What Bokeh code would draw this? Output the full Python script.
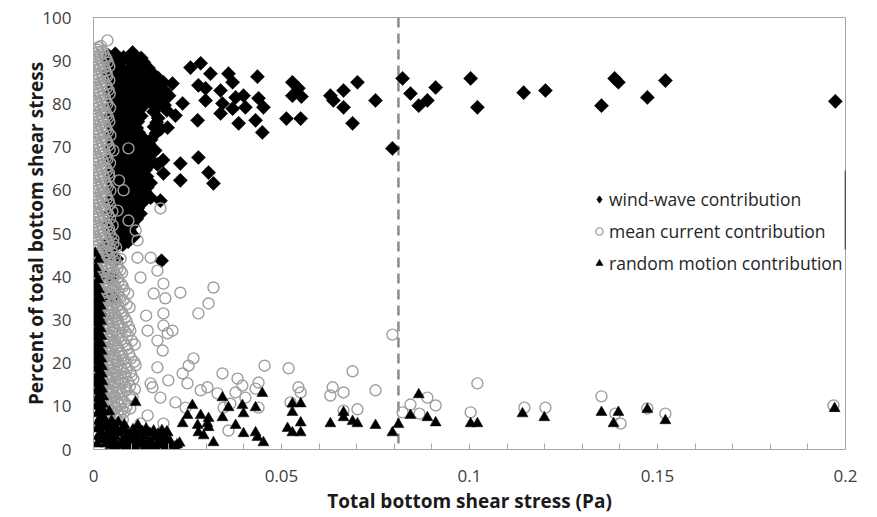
import math
from bokeh.plotting import figure
from bokeh.models import Range1d, FixedTicker, NumeralTickFormatter, Span, Legend, LegendItem
from bokeh.embed import file_html
from bokeh.resources import INLINE

# ---- axis ticks ----
x_ticks = [0, 0.05, 0.1, 0.15, 0.2]
x_minor_ticks = [0.01, 0.02, 0.03, 0.04, 0.06, 0.07, 0.08, 0.09, 0.11, 0.12, 0.13, 0.14,
                 0.16, 0.17, 0.18, 0.19]
y_ticks = [0, 10, 20, 30, 40, 50, 60, 70, 80, 90, 100]

# threshold stress marked by the dashed line (Pa)
threshold_stress = 0.0811
# short dark stroke on the right edge of the frame (percent range)
edge_mark_y = [46.3, 64.6]

# ---- wind-wave contribution: dense low-stress cluster ----
ww_core_x = [
    0.0040, 0.0058, 0.0104,
    0.0036, 0.0047, 0.0069, 0.0093, 0.0119, 0.0134,
    0.0038, 0.0046, 0.0063, 0.0086, 0.0111, 0.0136, 0.0157,
    0.0047, 0.0066, 0.0091, 0.0116, 0.0141, 0.0164, 0.0186, 0.0210,
    0.0045, 0.0060, 0.0084, 0.0109, 0.0133, 0.0155, 0.0179, 0.0201,
    0.0047, 0.0065, 0.0089, 0.0113, 0.0137, 0.0166, 0.0189,
    0.0045, 0.0062, 0.0087, 0.0110, 0.0127, 0.0172, 0.0218,
    0.0047, 0.0066, 0.0091, 0.0115, 0.0161, 0.0179, 0.0197,
    0.0045, 0.0061, 0.0085, 0.0108, 0.0131, 0.0153,
    0.0047, 0.0065, 0.0090, 0.0116, 0.0141, 0.0164,
    0.0045, 0.0062, 0.0087, 0.0111, 0.0135, 0.0156, 0.0185,
    0.0047, 0.0066, 0.0090, 0.0114, 0.0138, 0.0186, 0.0231,
    0.0045, 0.0061, 0.0085, 0.0108, 0.0130, 0.0152, 0.0231,
    0.0047, 0.0066, 0.0089, 0.0112, 0.0137, 0.0152,
    0.0045, 0.0062, 0.0086, 0.0108, 0.0131, 0.0178,
    0.0047, 0.0065, 0.0088, 0.0110, 0.0125,
    0.0045, 0.0060, 0.0082, 0.0104,
    0.0047, 0.0066, 0.0090, 0.0108,
    0.0030, 0.0055, 0.0078,
    0.0040, 0.0062, 0.0181,
    0.0025, 0.0048,
    0.0030, 0.0052,
    0.0028,
    # in-between observations of the same cluster
    0.0055, 0.0080, 0.0106, 0.0127,
    0.0051, 0.0075, 0.0098, 0.0123, 0.0146,
    0.0052, 0.0077, 0.0100, 0.0126, 0.0150, 0.0172,
    0.0048, 0.0072, 0.0096, 0.0121, 0.0144, 0.0167, 0.0190,
    0.0050, 0.0076, 0.0100, 0.0124, 0.0150, 0.0177,
    0.0050, 0.0074, 0.0098, 0.0119, 0.0160, 0.0195,
    0.0052, 0.0076, 0.0100, 0.0118, 0.0168,
    0.0049, 0.0073, 0.0097, 0.0120, 0.0166,
    0.0051, 0.0075, 0.0098, 0.0123, 0.0147,
    0.0050, 0.0074, 0.0099, 0.0123, 0.0148,
    0.0052, 0.0076, 0.0100, 0.0125, 0.0147, 0.0170,
    0.0050, 0.0073, 0.0097, 0.0120, 0.0142,
    0.0051, 0.0075, 0.0098, 0.0122, 0.0143,
    0.0050, 0.0074, 0.0097, 0.0120,
    0.0052, 0.0076, 0.0099, 0.0118,
    0.0049, 0.0072, 0.0094, 0.0115,
    0.0051, 0.0074, 0.0096,
    0.0048, 0.0070, 0.0092,
]
ww_core_y = [
    91.2, 91.6, 91.9,
    89.6, 90.1, 89.3, 90.4, 88.9, 89.6,
    87.4, 86.8, 87.6, 86.9, 87.3, 86.6, 87.1,
    84.9, 84.3, 85.1, 84.5, 84.8, 84.2, 85.0, 84.7,
    82.3, 81.8, 82.5, 81.9, 82.2, 81.6, 82.4, 81.9,
    79.8, 79.3, 80.0, 79.5, 79.9, 79.2, 79.7,
    77.3, 76.8, 77.4, 76.9, 77.2, 76.7, 77.3,
    74.8, 74.3, 75.0, 74.4, 74.7, 74.2, 74.5,
    72.3, 71.8, 72.4, 71.9, 72.2, 71.7,
    69.8, 69.3, 69.9, 69.4, 69.7, 69.2,
    67.3, 66.8, 67.4, 66.9, 67.2, 66.7, 67.0,
    64.8, 64.3, 64.9, 64.4, 64.7, 63.9, 66.2,
    62.3, 61.8, 62.4, 61.9, 62.2, 61.7, 62.3,
    59.8, 59.3, 59.9, 59.4, 59.7, 58.3,
    57.3, 56.8, 57.4, 56.9, 57.2, 57.6,
    54.8, 54.3, 54.9, 54.4, 54.6,
    52.3, 51.8, 52.4, 51.9,
    49.8, 49.3, 49.9, 49.4,
    47.3, 46.8, 47.4,
    44.6, 44.1, 43.7,
    40.4, 39.9,
    35.7, 35.2,
    30.4,
    90.5, 90.8, 90.3, 90.6,
    88.2, 88.0, 88.4, 88.1, 88.3,
    85.8, 86.1, 85.6, 85.9, 85.7, 86.0,
    83.3, 83.6, 83.1, 83.4, 83.2, 83.5, 83.0,
    80.8, 81.1, 80.6, 80.9, 80.7, 81.0,
    78.3, 78.6, 78.1, 78.4, 78.2, 78.5,
    75.8, 76.1, 75.6, 75.9, 75.7,
    73.3, 73.6, 73.1, 73.4, 73.2,
    70.8, 71.1, 70.6, 70.9, 70.7,
    68.3, 68.6, 68.1, 68.4, 68.2,
    65.8, 66.1, 65.6, 65.9, 65.7, 66.0,
    63.3, 63.6, 63.1, 63.4, 63.2,
    60.8, 61.1, 60.6, 60.9, 60.7,
    58.3, 58.6, 58.1, 58.4,
    55.8, 56.1, 55.6, 55.9,
    53.3, 53.6, 53.1, 53.4,
    50.8, 51.1, 50.6,
    48.3, 48.6, 48.1,
]
# ---- wind-wave contribution: higher-stress observations ----
ww_x = [
    0.0237, 0.0258, 0.0285, 0.0311, 0.0359, 0.0370, 0.0436, 0.0279, 0.0298, 0.0338,
    0.0378, 0.0399, 0.0439, 0.0298, 0.0343, 0.0370, 0.0404, 0.0452, 0.0338, 0.0386,
    0.0431, 0.0449, 0.0277, 0.0529, 0.0545, 0.0529, 0.0553, 0.0513, 0.0551, 0.0630,
    0.0638, 0.0665, 0.0702, 0.0665, 0.0689, 0.0750, 0.0795, 0.0279, 0.0306, 0.0319,
    0.0822, 0.0843, 0.0865, 0.0888, 0.0910, 0.1003, 0.1021, 0.1144, 0.1202, 0.1351,
    0.1386, 0.1396, 0.1473, 0.1521, 0.1973,
]
ww_y = [
    80.1, 88.4, 89.4, 87.0, 87.0, 85.0, 86.3, 84.3, 83.6, 83.1,
    81.5, 81.9, 81.3, 80.8, 80.1, 78.9, 79.2, 79.2, 77.8, 75.5,
    76.2, 73.4, 76.2, 85.0, 83.6, 81.9, 81.7, 76.6, 76.6, 81.9,
    80.8, 83.1, 85.0, 79.2, 75.5, 80.8, 69.7, 67.6, 64.1, 61.6,
    85.9, 82.4, 79.6, 80.8, 83.8, 85.9, 79.2, 82.6, 83.1, 79.6,
    85.9, 85.0, 81.5, 85.4, 80.6,
]

# ---- mean current contribution: dense low-stress cluster ----
mc_core_x = [
    0.0010, 0.0024,
    0.0005, 0.0018, 0.0031,
    0.0011, 0.0025, 0.0038,
    0.0004, 0.0017, 0.0032,
    0.0010, 0.0024, 0.0036,
    0.0006, 0.0019, 0.0033,
    0.0012, 0.0026, 0.0040,
    0.0005, 0.0018, 0.0031,
    0.0011, 0.0025, 0.0037,
    0.0004, 0.0019, 0.0033,
    0.0010, 0.0024, 0.0039,
    0.0006, 0.0018, 0.0032,
    0.0012, 0.0026, 0.0038,
    0.0005, 0.0019, 0.0034,
    0.0011, 0.0024, 0.0040,
    0.0004, 0.0018, 0.0031,
    0.0010, 0.0025, 0.0037,
    0.0006, 0.0019, 0.0033,
    0.0012, 0.0026, 0.0041,
    0.0005, 0.0018, 0.0032,
    0.0011, 0.0024, 0.0038,
    0.0004, 0.0019, 0.0034,
    0.0010, 0.0025, 0.0040,
    0.0006, 0.0018, 0.0031,
    0.0012, 0.0026, 0.0039,
    0.0005, 0.0019, 0.0033,
    0.0011, 0.0024, 0.0041,
    0.0004, 0.0018, 0.0032, 0.0046,
    0.0010, 0.0025, 0.0039, 0.0053,
    0.0006, 0.0019, 0.0033, 0.0048,
    0.0012, 0.0026, 0.0041, 0.0057,
    0.0005, 0.0018, 0.0032, 0.0047, 0.0063,
    0.0011, 0.0025, 0.0039, 0.0055, 0.0071,
    0.0004, 0.0019, 0.0034, 0.0049, 0.0064,
    0.0010, 0.0024, 0.0040, 0.0056, 0.0074,
    0.0006, 0.0018, 0.0033, 0.0048, 0.0065, 0.0082,
    0.0012, 0.0026, 0.0041, 0.0057, 0.0072,
    0.0005, 0.0019, 0.0034, 0.0049, 0.0066, 0.0088,
    0.0011, 0.0025, 0.0040, 0.0056, 0.0075,
    0.0004, 0.0018, 0.0033, 0.0048, 0.0064, 0.0083,
    0.0010, 0.0024, 0.0039, 0.0055, 0.0071, 0.0094,
    0.0006, 0.0019, 0.0034, 0.0049, 0.0066, 0.0085,
    0.0012, 0.0026, 0.0041, 0.0057, 0.0074, 0.0102,
    0.0005, 0.0018, 0.0032, 0.0048, 0.0064, 0.0086,
    0.0011, 0.0025, 0.0040, 0.0056, 0.0073, 0.0095,
    0.0004, 0.0019, 0.0034, 0.0049, 0.0065, 0.0081, 0.0108,
    0.0010, 0.0024, 0.0039, 0.0055, 0.0072, 0.0090,
    0.0006, 0.0018, 0.0033, 0.0048, 0.0064, 0.0082, 0.0101,
    0.0012, 0.0026, 0.0041, 0.0057, 0.0073, 0.0092,
    0.0008, 0.0019, 0.0034, 0.0049, 0.0066, 0.0084, 0.0110,
    0.0014, 0.0025, 0.0040, 0.0056, 0.0074, 0.0096,
    0.0020, 0.0033, 0.0048, 0.0064, 0.0083,
    0.0030, 0.0044, 0.0058, 0.0076, 0.0098,
    0.0040, 0.0055, 0.0070,
    0.0052, 0.0068,
    # in-between observations of the same cluster
    0.0020,
    0.0002, 0.0013, 0.0027,
    0.0007, 0.0020, 0.0034,
    0.0002, 0.0014, 0.0028, 0.0042,
    0.0008, 0.0021, 0.0035,
    0.0003, 0.0014, 0.0027, 0.0042,
    0.0008, 0.0021, 0.0035,
    0.0002, 0.0015, 0.0028, 0.0043,
    0.0007, 0.0021, 0.0034,
    0.0003, 0.0014, 0.0027, 0.0044,
    0.0008, 0.0021, 0.0035,
    0.0002, 0.0015, 0.0028, 0.0042,
    0.0007, 0.0021, 0.0034,
    0.0003, 0.0014, 0.0027, 0.0045,
    0.0008, 0.0021, 0.0035,
    0.0002, 0.0015, 0.0028, 0.0043,
    0.0007, 0.0021, 0.0034,
    0.0003, 0.0014, 0.0027, 0.0044,
    0.0008, 0.0021, 0.0035,
    0.0002, 0.0015, 0.0028, 0.0042,
    0.0007, 0.0021, 0.0034,
    0.0003, 0.0014, 0.0027, 0.0045,
    0.0008, 0.0021, 0.0035,
    0.0002, 0.0015, 0.0028, 0.0043,
    0.0007, 0.0021, 0.0034, 0.0050,
    0.0003, 0.0014, 0.0027, 0.0044,
    0.0008, 0.0021, 0.0035, 0.0051,
    0.0002, 0.0015, 0.0028, 0.0042,
    0.0007, 0.0021, 0.0034, 0.0053,
    0.0003, 0.0014, 0.0027, 0.0041, 0.0060,
    0.0008, 0.0021, 0.0035, 0.0050,
    0.0002, 0.0015, 0.0028, 0.0042, 0.0056, 0.0072,
    0.0007, 0.0021, 0.0034, 0.0048, 0.0064,
    0.0003, 0.0014, 0.0027, 0.0041, 0.0057, 0.0076,
    0.0008, 0.0021, 0.0035, 0.0050, 0.0066,
    0.0002, 0.0015, 0.0028, 0.0042, 0.0058, 0.0078,
    0.0007, 0.0021, 0.0034, 0.0049, 0.0064, 0.0092,
    0.0003, 0.0014, 0.0027, 0.0041, 0.0057, 0.0079,
    0.0008, 0.0021, 0.0035, 0.0050, 0.0067, 0.0096,
    0.0002, 0.0015, 0.0028, 0.0042, 0.0059, 0.0078,
    0.0007, 0.0021, 0.0034, 0.0049, 0.0066, 0.0088,
    0.0003, 0.0014, 0.0027, 0.0041, 0.0058, 0.0078, 0.0098,
    0.0008, 0.0021, 0.0035, 0.0050, 0.0066, 0.0091,
    0.0002, 0.0015, 0.0028, 0.0042, 0.0058, 0.0079, 0.0110,
    0.0007, 0.0021, 0.0034, 0.0049, 0.0067, 0.0090,
    0.0003, 0.0014, 0.0027, 0.0041, 0.0057, 0.0077, 0.0100,
    0.0008, 0.0021, 0.0035, 0.0050, 0.0066, 0.0086, 0.0112,
    0.0002, 0.0015, 0.0028, 0.0042, 0.0058, 0.0076, 0.0098,
    0.0007, 0.0021, 0.0034, 0.0049, 0.0066, 0.0085, 0.0106,
    0.0003, 0.0014, 0.0027, 0.0041, 0.0057, 0.0076, 0.0097,
    0.0010, 0.0021, 0.0035, 0.0050, 0.0067, 0.0088,
    0.0016, 0.0028, 0.0042, 0.0058, 0.0075, 0.0104,
    0.0025, 0.0038, 0.0052, 0.0068, 0.0088,
    0.0036, 0.0050, 0.0064, 0.0082,
    0.0046, 0.0060, 0.0078,
]
mc_core_y = [
    92.6, 92.2,
    91.0, 91.3, 90.8,
    89.4, 89.1, 89.6,
    87.8, 88.1, 87.6,
    86.2, 85.9, 86.4,
    84.6, 84.9, 84.4,
    83.0, 82.7, 83.2,
    81.4, 81.7, 81.2,
    79.8, 79.5, 80.0,
    78.2, 78.5, 78.0,
    76.6, 76.3, 76.8,
    75.0, 75.3, 74.8,
    73.4, 73.1, 73.6,
    71.8, 72.1, 71.6,
    70.2, 69.9, 70.4,
    68.6, 68.9, 68.4,
    67.0, 66.7, 67.2,
    65.4, 65.7, 65.2,
    63.8, 63.5, 64.0,
    62.2, 62.5, 62.0,
    60.6, 60.3, 60.8,
    59.0, 59.3, 58.8,
    57.4, 57.1, 57.6,
    55.8, 56.1, 55.6,
    54.2, 53.9, 54.4,
    52.6, 52.9, 52.4,
    51.0, 50.7, 51.2,
    49.4, 49.7, 49.2, 49.5,
    47.8, 47.5, 48.0, 47.7,
    46.2, 46.5, 46.0, 46.3,
    44.6, 44.3, 44.8, 44.5,
    43.0, 43.3, 42.8, 43.1, 42.9,
    41.4, 41.1, 41.6, 41.3, 41.5,
    39.8, 40.1, 39.6, 39.9, 39.7,
    38.2, 37.9, 38.4, 38.1, 38.3,
    36.6, 36.9, 36.4, 36.7, 36.5, 36.8,
    35.0, 34.7, 35.2, 34.9, 35.1,
    33.4, 33.7, 33.2, 33.5, 33.3, 33.6,
    31.8, 31.5, 32.0, 31.7, 31.9,
    30.2, 30.5, 30.0, 30.3, 30.1, 30.4,
    28.6, 28.3, 28.8, 28.5, 28.7, 28.4,
    27.0, 27.3, 26.8, 27.1, 26.9, 27.2,
    25.4, 25.1, 25.6, 25.3, 25.5, 25.2,
    23.8, 24.1, 23.6, 23.9, 23.7, 24.0,
    22.2, 21.9, 22.4, 22.1, 22.3, 22.0,
    20.6, 20.9, 20.4, 20.7, 20.5, 20.8, 20.3,
    19.0, 18.7, 19.2, 18.9, 19.1, 18.8,
    17.4, 17.7, 17.2, 17.5, 17.3, 17.6, 17.1,
    15.8, 15.5, 16.0, 15.7, 15.9, 15.6,
    14.2, 14.5, 14.0, 14.3, 14.1, 14.4, 13.9,
    12.6, 12.3, 12.8, 12.5, 12.7, 12.4,
    11.0, 11.3, 10.8, 11.1, 10.9,
    9.4, 9.1, 9.6, 9.3, 9.5,
    7.8, 8.1, 7.6,
    6.4, 6.2,
    93.4,
    91.8, 92.0, 91.7,
    90.2, 90.0, 90.4,
    88.6, 88.8, 88.5, 88.7,
    87.0, 87.2, 86.9,
    85.4, 85.6, 85.3, 85.5,
    83.8, 84.0, 83.7,
    82.2, 82.4, 82.1, 82.3,
    80.6, 80.8, 80.5,
    79.0, 79.2, 78.9, 79.1,
    77.4, 77.6, 77.3,
    75.8, 76.0, 75.7, 75.9,
    74.2, 74.4, 74.1,
    72.6, 72.8, 72.5, 72.7,
    71.0, 71.2, 70.9,
    69.4, 69.6, 69.3, 69.5,
    67.8, 68.0, 67.7,
    66.2, 66.4, 66.1, 66.3,
    64.6, 64.8, 64.5,
    63.0, 63.2, 62.9, 63.1,
    61.4, 61.6, 61.3,
    59.8, 60.0, 59.7, 59.9,
    58.2, 58.4, 58.1,
    56.6, 56.8, 56.5, 56.7,
    55.0, 55.2, 54.9, 55.1,
    53.4, 53.6, 53.3, 53.5,
    51.8, 52.0, 51.7, 51.9,
    50.2, 50.4, 50.1, 50.3,
    48.6, 48.8, 48.5, 48.7,
    47.0, 47.2, 46.9, 47.1, 46.8,
    45.4, 45.6, 45.3, 45.5,
    43.8, 44.0, 43.7, 43.9, 43.6, 44.1,
    42.2, 42.4, 42.1, 42.3, 42.0,
    40.6, 40.8, 40.5, 40.7, 40.4, 40.9,
    39.0, 39.2, 38.9, 39.1, 38.8,
    37.4, 37.6, 37.3, 37.5, 37.2, 37.7,
    35.8, 36.0, 35.7, 35.9, 35.6, 36.1,
    34.2, 34.4, 34.1, 34.3, 34.0, 34.5,
    32.6, 32.8, 32.5, 32.7, 32.4, 32.9,
    31.0, 31.2, 30.9, 31.1, 30.8, 31.3,
    29.4, 29.6, 29.3, 29.5, 29.2, 29.7,
    27.8, 28.0, 27.7, 27.9, 27.6, 28.1, 27.5,
    26.2, 26.4, 26.1, 26.3, 26.0, 26.5,
    24.6, 24.8, 24.5, 24.7, 24.4, 24.9, 24.3,
    23.0, 23.2, 22.9, 23.1, 22.8, 23.3,
    21.4, 21.6, 21.3, 21.5, 21.2, 21.7, 21.1,
    19.8, 20.0, 19.7, 19.9, 19.6, 20.1, 19.5,
    18.2, 18.4, 18.1, 18.3, 18.0, 18.5, 17.9,
    16.6, 16.8, 16.5, 16.7, 16.4, 16.9, 16.3,
    15.0, 15.2, 14.9, 15.1, 14.8, 15.3, 14.7,
    13.4, 13.6, 13.3, 13.5, 13.2, 13.7,
    11.8, 12.0, 11.7, 11.9, 11.6, 12.1,
    10.2, 10.4, 10.1, 10.3, 10.0,
    8.6, 8.8, 8.5, 8.7,
    7.0, 7.2, 6.9,
]
# ---- mean current contribution: scattered observations ----
mc_x = [
    0.0013, 0.0037, 0.0053, 0.0093, 0.0068, 0.0080, 0.0064, 0.0093, 0.0112, 0.0117,
    0.0178, 0.0117, 0.0152, 0.0125, 0.0170, 0.0186, 0.0160, 0.0231, 0.0319, 0.0191,
    0.0306, 0.0279, 0.0186, 0.0140, 0.0186, 0.0197, 0.0144, 0.0210, 0.0170, 0.0184,
    0.0266, 0.0253, 0.0170, 0.0237, 0.0199, 0.0250, 0.0152, 0.0157, 0.0285, 0.0303,
    0.0330, 0.0218, 0.0178, 0.0245, 0.0144, 0.0125, 0.0186, 0.0364, 0.0359, 0.0455,
    0.0519, 0.0343, 0.0383, 0.0439, 0.0396, 0.0378, 0.0431, 0.0545, 0.0551, 0.0636,
    0.0630, 0.0665, 0.0689, 0.0750, 0.0404, 0.0346, 0.0439, 0.0524, 0.0665, 0.0702,
    0.0795, 0.0822, 0.0843, 0.0867, 0.0888, 0.0910, 0.1003, 0.1021, 0.1146, 0.1202,
    0.1351, 0.1388, 0.1402, 0.1473, 0.1521, 0.1968,
]
mc_y = [
    93.1, 94.7, 69.2, 69.7, 62.3, 60.0, 55.3, 53.0, 50.7, 48.4,
    55.8, 44.4, 44.4, 39.8, 41.4, 38.4, 36.1, 36.3, 37.5, 35.0,
    33.8, 31.5, 31.5, 31.0, 28.7, 26.9, 27.5, 27.5, 25.2, 22.9,
    21.1, 19.4, 19.0, 17.6, 16.0, 15.3, 15.3, 14.4, 13.7, 14.4,
    13.0, 10.9, 12.0, 9.7, 7.9, 6.0, 6.0, 10.6, 4.4, 19.4,
    18.8, 17.6, 16.4, 15.5, 14.8, 13.2, 14.1, 14.4, 13.2, 14.4,
    12.5, 13.2, 18.1, 13.7, 12.0, 9.7, 9.7, 10.9, 9.0, 9.3,
    26.6, 8.6, 10.4, 8.3, 12.0, 10.2, 8.6, 15.3, 9.7, 9.7,
    12.3, 8.3, 6.0, 9.5, 8.3, 10.2,
]

# ---- random motion contribution: dense low-stress cluster ----
rm_core_x = [
    0.0005, 0.0006, 0.0004, 0.0008, 0.0006, 0.0009, 0.0005, 0.0008, 0.0006, 0.0009,
    0.0005, 0.0007, 0.0010, 0.0006, 0.0008, 0.0011, 0.0007, 0.0010, 0.0012, 0.0008,
    0.0011, 0.0013, 0.0009, 0.0012, 0.0010,
    0.0017, 0.0019, 0.0018, 0.0020, 0.0019, 0.0021, 0.0020, 0.0022, 0.0021, 0.0023,
    0.0022, 0.0024, 0.0023, 0.0026, 0.0025, 0.0028, 0.0030, 0.0032, 0.0035, 0.0037,
    0.0013, 0.0012, 0.0014, 0.0013, 0.0015, 0.0012, 0.0014, 0.0013, 0.0015, 0.0014,
    0.0013, 0.0015, 0.0014, 0.0016, 0.0015, 0.0014, 0.0016, 0.0015, 0.0017, 0.0018,
    0.0020, 0.0022, 0.0024,
    0.0042, 0.0048, 0.0066, 0.0040, 0.0045, 0.0058, 0.0050, 0.0072, 0.0077, 0.0085,
    0.0098, 0.0105, 0.0112, 0.0125, 0.0138, 0.0140, 0.0151, 0.0165, 0.0178, 0.0182,
    0.0191, 0.0204, 0.0229,
    0.0058, 0.0085, 0.0112, 0.0138, 0.0164, 0.0191, 0.0217,
    0.0048, 0.0075, 0.0100, 0.0127, 0.0152, 0.0178, 0.0203,
    0.0040, 0.0066, 0.0092, 0.0120, 0.0150, 0.0172,
    0.0038, 0.0057, 0.0082, 0.0118,
    0.0032, 0.0060, 0.0088, 0.0115, 0.0142, 0.0170, 0.0196, 0.0222,
    0.0055, 0.0083, 0.0110, 0.0130, 0.0160, 0.0195,
]
rm_core_y = [
    45.4, 42.1, 40.6, 38.0, 36.2, 34.5, 32.8, 31.0, 29.3, 27.5,
    25.8, 24.0, 22.3, 20.5, 18.8, 17.0, 15.3, 13.5, 11.8, 10.0,
    8.3, 6.5, 4.8, 3.0, 1.3,
    35.0, 33.2, 31.5, 29.7, 28.0, 26.2, 24.5, 22.7, 21.0, 19.2,
    17.5, 15.7, 14.0, 12.2, 10.5, 8.7, 7.0, 5.2, 3.5, 1.8,
    44.0, 39.3, 37.1, 35.4, 33.7, 31.9, 30.2, 28.4, 26.7, 24.9,
    23.2, 21.4, 19.7, 17.9, 16.2, 14.4, 12.7, 10.9, 9.2, 7.4,
    5.7, 3.9, 2.2,
    8.8, 6.6, 6.3, 2.2, 0.9, 3.0, 4.7, 1.1, 4.5, 2.8,
    0.9, 4.6, 2.9, 1.2, 3.0, 4.8, 0.9, 2.8, 1.2, 4.4,
    2.7, 1.0, 1.5,
    0.6, 0.7, 0.5, 0.6, 0.7, 0.5, 0.6,
    2.0, 1.9, 2.1, 2.0, 1.9, 2.1, 2.0,
    3.7, 3.8, 3.6, 3.7, 3.8, 3.6,
    5.6, 5.5, 5.7, 5.6,
    1.3, 1.4, 1.2, 1.3, 1.4, 1.2, 1.3, 1.1,
    4.2, 4.3, 4.1, 4.2, 4.3, 4.1,
]
# ---- random motion contribution: scattered observations ----
rm_x = [
    0.0112, 0.0263, 0.0237, 0.0197, 0.0293, 0.0319, 0.0277, 0.0250, 0.0285, 0.0303,
    0.0343, 0.0449, 0.0359, 0.0396, 0.0431, 0.0399, 0.0378, 0.0343, 0.0306, 0.0306,
    0.0279, 0.0399, 0.0431, 0.0436, 0.0452, 0.0529, 0.0551, 0.0529, 0.0551, 0.0516,
    0.0529, 0.0551, 0.0630, 0.0665, 0.0665, 0.0689, 0.0702, 0.0750, 0.0795, 0.0811,
    0.0843, 0.0865, 0.0888, 0.0910, 0.1003, 0.1021, 0.1141, 0.1199, 0.1351, 0.1383,
    0.1396, 0.1473, 0.1521, 0.1971,
]
rm_y = [
    10.9, 10.2, 6.0, 3.9, 3.2, 1.6, 5.6, 7.9, 7.9, 6.0,
    12.0, 13.0, 9.7, 10.2, 9.7, 8.3, 5.6, 7.4, 7.2, 5.1,
    3.9, 3.7, 3.9, 2.8, 1.6, 10.6, 10.6, 8.6, 6.2, 4.9,
    3.9, 3.9, 6.0, 8.6, 7.4, 6.5, 6.0, 5.6, 3.9, 5.8,
    7.9, 12.7, 7.4, 6.2, 6.0, 6.0, 8.3, 7.4, 8.6, 6.0,
    8.6, 9.3, 6.7, 9.5,
]

for a, b in [(ww_core_x, ww_core_y), (ww_x, ww_y), (mc_core_x, mc_core_y),
             (mc_x, mc_y), (rm_core_x, rm_core_y), (rm_x, rm_y)]:
    assert len(a) == len(b), (len(a), len(b))

FONT = "Open Sans"
FRAME_GREY = "#a6a6a6"

p = figure(width=877, height=517, output_backend="svg", toolbar_location=None,
           x_range=Range1d(0, 0.2), y_range=Range1d(0, 100),
           min_border_left=93, min_border_right=32, min_border_top=17, min_border_bottom=68)
p.xgrid.visible = False
p.ygrid.visible = False
p.outline_line_color = FRAME_GREY
p.outline_line_width = 1
p.background_fill_color = "white"
p.border_fill_color = "white"

# dashed reference line at the threshold stress
p.add_layout(Span(location=threshold_stress, dimension="height", line_color="#8c8c8c",
                  line_width=2.5, line_dash="10 6", level="underlay"))

r_ww = p.scatter(ww_core_x + ww_x, ww_core_y + ww_y, marker="square", angle=math.pi / 4,
                 size=10, fill_color="black", line_color="black", line_width=0.5)
r_mc = p.scatter(mc_core_x + mc_x, mc_core_y + mc_y, marker="circle", size=11,
                 fill_color=None, line_color="#9e9e9e", line_width=1.4)
r_rm = p.scatter(rm_core_x + rm_x, rm_core_y + rm_y, marker="triangle", size=11,
                 fill_color="black", line_color="black", line_width=0.5)
# legend swatch for the wind-wave series (a single undefined point, never drawn)
r_ww_key = p.scatter([float("nan")], [float("nan")], marker="diamond", size=10,
                     fill_color="black", line_color="black")

# dark stroke on the right edge of the frame
p.line([0.2, 0.2], edge_mark_y, line_color="black", line_width=1.5)

xa = p.xaxis[0]
xa.ticker = FixedTicker(ticks=x_ticks, minor_ticks=x_minor_ticks)
xa.formatter = NumeralTickFormatter(format="0.[00]")
xa.axis_label = "Total bottom shear stress (Pa)"
xa.major_tick_in = 6
xa.major_tick_out = 0
xa.minor_tick_in = 6
xa.minor_tick_out = 0
xa.major_tick_line_color = FRAME_GREY
xa.minor_tick_line_color = FRAME_GREY
xa.axis_line_color = FRAME_GREY
xa.major_label_standoff = 20
xa.axis_label_standoff = 3

ya = p.yaxis[0]
ya.ticker = FixedTicker(ticks=y_ticks)
ya.axis_label = "Percent of total bottom shear stress"
ya.major_tick_line_color = None
ya.minor_tick_line_color = None
ya.axis_line_color = FRAME_GREY
ya.major_label_standoff = 16
ya.axis_label_standoff = -10

for ax in (xa, ya):
    ax.major_label_text_font = FONT
    ax.major_label_text_font_size = "17px"
    ax.major_label_text_color = "#404040"
    ax.axis_label_text_font = FONT
    ax.axis_label_text_font_size = "19px"
    ax.axis_label_text_font_style = "bold"
    ax.axis_label_text_color = "#1a1a1a"

legend = Legend(items=[
    LegendItem(label="wind-wave contribution", renderers=[r_ww_key]),
    LegendItem(label="mean current contribution", renderers=[r_mc]),
    LegendItem(label="random motion contribution", renderers=[r_rm]),
], location=(497, 174))
legend.padding = 0
legend.margin = 0
legend.spacing = 8
legend.glyph_width = 18
legend.glyph_height = 24
legend.label_height = 24
legend.label_standoff = 1
legend.border_line_color = None
legend.background_fill_alpha = 0
legend.label_text_font = FONT
legend.label_text_font_size = "17.5px"
legend.label_text_color = "#262626"
p.add_layout(legend)

open("out.html", "w").write(file_html(p, INLINE))
